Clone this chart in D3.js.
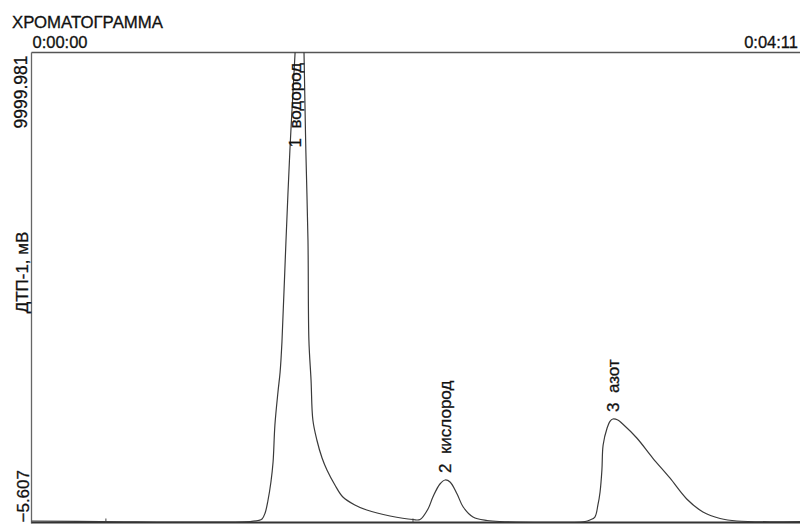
<!DOCTYPE html>
<html>
<head>
<meta charset="utf-8">
<script src="https://cdn.jsdelivr.net/npm/d3@7"></script>
<style>
  body { margin: 0; background: #fff; }
  svg { display: block; }
  text { font-family: "Liberation Sans", Arial, sans-serif; fill: #111; stroke: #111; stroke-width: 0.3; }
  .trace { fill: none; stroke: #3a3a3a; stroke-width: 1.2; }
  .peakLabel { font-size: 17px; white-space: pre; }
</style>
</head>
<body>
<svg id="chart" width="801" height="525"></svg>
<script>
// detector signal: time (s), signal (mV)
const times = [0, 22.4, 71.4, 74.0, 75.3, 76.3, 77.2, 78.2, 78.9, 79.5, 80.5, 81.2, 81.8, 83.1, 84.4, 86.1,
  88.0, 89.0, 89.6, 90.3, 90.6, 91.3, 91.9, 93.2, 94.9, 96.5, 99.1, 101.7, 105.6, 109.5, 117.1, 124.6,
  126.9, 129.5, 131.1, 133.4, 135.1, 136.7, 139.0, 141.0, 144.2, 148.8, 153.0, 180.8,
  182.4, 184.0, 185.0, 185.7, 186.3, 186.7, 188.0, 189.0, 189.9, 191.5, 193.1, 197.7, 202.9, 208.5,
  214.0, 219.3, 224.9, 230.4, 251]
const signal = [26, 15, 15, 37, 69, 197, 452, 857, 1282, 2070, 2773, 3198, 3837, 5966, 7924, 10011,
  12700, 10011, 7924, 6008, 3879, 3028, 2176, 1751, 1367, 1112, 793, 537, 367, 260, 133, 58,
  58, 282, 537, 814, 899, 857, 601, 324, 111, 37, 15, 15,
  48, 111, 367, 644, 1112, 1644, 2006, 2155, 2198, 2176, 2091, 1793, 1367, 942,
  495, 218, 80, 26, 15]

const peakNames = ['1  водород', '2  кислород', '3  азот']
const peakTimes = [86.2, 135.1, 189.9]
const peakApex = [12700, 899, 2198]

const timeRange = [0, 251]            // 0:00:00 .. 0:04:11
const signalRange = [-5.607, 9999.981]
const timeTicks = [24.3, 124.6]

const title = 'ХРОМАТОГРАММА'
const yTitle = 'ДТП-1, мВ'

const margin = { left: 31.5, right: 800, top: 52.5, bottom: 522.5 }

const svg = d3.select('#chart')

const x = d3.scaleLinear().domain(timeRange).range([margin.left, margin.right])
const y = d3.scaleLinear().domain(signalRange).range([margin.bottom, margin.top])

function fmtTime (s) {
  const h = Math.floor(s / 3600)
  const m = Math.floor(s / 60) % 60
  const sec = Math.round(s % 60)
  return h + ':' + String(m).padStart(2, '0') + ':' + String(sec).padStart(2, '0')
}

svg.append('text').attr('x', 12).attr('y', 28).style('font-size', '16.8px').text(title)
svg.append('text').attr('x', x(timeRange[0]) + 1).attr('y', 48).style('font-size', '16.5px')
  .text(fmtTime(timeRange[0]))
svg.append('text').attr('x', 798).attr('y', 48).attr('text-anchor', 'end').style('font-size', '16.5px')
  .text(fmtTime(timeRange[1]))

// frame
svg.append('line').attr('x1', margin.left).attr('x2', margin.right)
  .attr('y1', margin.top).attr('y2', margin.top)
  .attr('stroke', '#555').attr('stroke-width', 1.6)
svg.append('line').attr('x1', margin.left).attr('x2', margin.left)
  .attr('y1', margin.top).attr('y2', margin.bottom + 1)
  .attr('stroke', '#666').attr('stroke-width', 1.3)
svg.append('line').attr('x1', margin.left).attr('x2', margin.right)
  .attr('y1', margin.bottom).attr('y2', margin.bottom)
  .attr('stroke', '#333').attr('stroke-width', 2)

svg.selectAll('line.tick')
  .data(timeTicks)
  .enter().append('line').classed('tick', true)
  .attr('x1', d => x(d)).attr('x2', d => x(d))
  .attr('y1', margin.bottom).attr('y2', margin.bottom - 4)
  .attr('stroke', '#444')

// y labels (rotated)
const fmtY = d3.format('.3f')
svg.append('text').attr('transform', `translate(27,${margin.top + 3}) rotate(-90)`)
  .attr('text-anchor', 'end').style('font-size', '17.5px').text(fmtY(signalRange[1]))
svg.append('text').attr('transform', `translate(29,${margin.bottom}) rotate(-90)`)
  .attr('text-anchor', 'start').style('font-size', '17px').text(fmtY(signalRange[0]))
svg.append('text').attr('transform', `translate(28,${(margin.top + margin.bottom) / 2 - 15}) rotate(-90)`)
  .attr('text-anchor', 'middle').style('font-size', '17px').text(yTitle)

// trace
svg.append('clipPath').attr('id', 'plotClip')
  .append('rect').attr('x', margin.left).attr('y', margin.top)
  .attr('width', margin.right - margin.left).attr('height', margin.bottom - margin.top)

const line = d3.line()
  .x(i => x(times[i]))
  .y(i => y(signal[i]))
  .curve(d3.curveCatmullRom.alpha(0.5))

svg.append('path').classed('trace', true)
  .attr('clip-path', 'url(#plotClip)')
  .attr('d', line(d3.range(times.length)))

// peak labels
svg.selectAll('text.peakLabel')
  .data(d3.range(peakNames.length))
  .enter().append('text').classed('peakLabel', true)
  .attr('transform', i => {
    const ly = Math.max(y(peakApex[i]) - 7, margin.top + 95)
    return `translate(${x(peakTimes[i]) + 6},${ly}) rotate(-90)`
  })
  .text(i => peakNames[i])
</script>
</body>
</html>
